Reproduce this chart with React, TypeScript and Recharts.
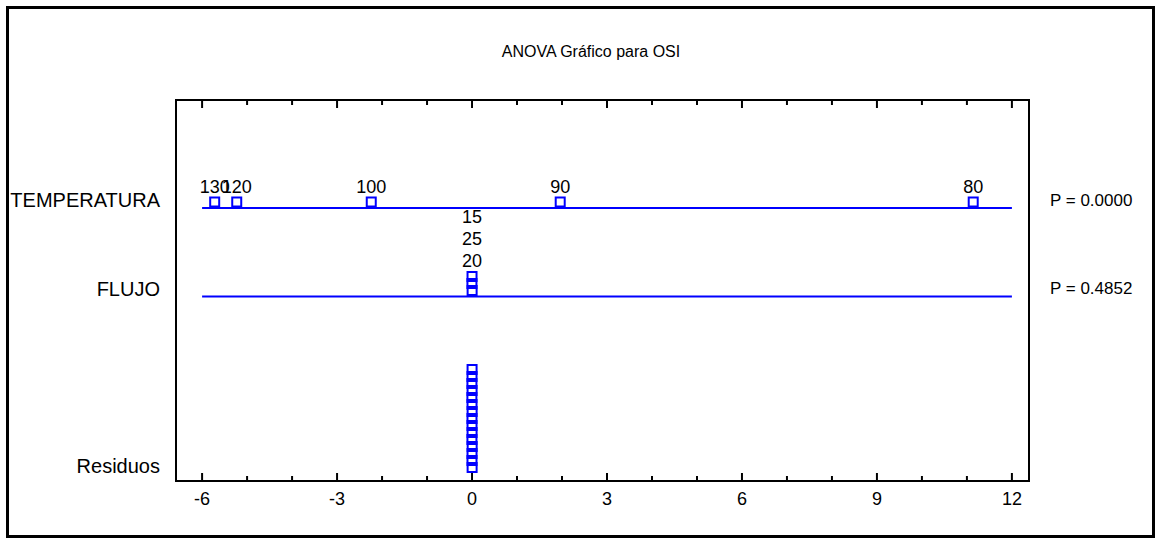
import React from 'react';
import { ScatterChart, Scatter, XAxis, YAxis, ReferenceLine, ReferenceArea } from 'recharts';

// effects (x axis units)
const tempLevels = ['130', '120', '100', '90', '80'];
const tempEffects = [-5.72, -5.23, -2.24, 1.96, 11.14];
const flujoLevels = ['20', '25', '15'];
const flujoEffects = [0.002, -0.002, 0.0];
const residuals = [0.002, -0.001, 0.0, 0.003, -0.002, 0.001, 0.0, -0.001, 0.002, 0.0, -0.003, 0.001, -0.002, 0.0, 0.001];

const rowNames = ['TEMPERATURA', 'FLUJO', 'Residuos'];
const pValues = ['P = 0.0000', 'P = 0.4852'];
const xTicks = [-6, -5, -4, -3, -2, -1, 0, 1, 2, 3, 4, 5, 6, 7, 8, 9, 10, 11, 12];

// layout (y in px above plot bottom)
const ROW_Y = [279, 190.5, 13.5];
const STACK = 7;
const HALF = 5.5;
const BLUE = '#0000ff';
const FONT = '"Liberation Sans", Arial, sans-serif';

const stackRow = (values: number[], baseY: number) => {
  const placed: number[] = [];
  return values.map(v => {
    const k = placed.filter(p => Math.abs(p - v) < 0.2).length;
    placed.push(v);
    return { x: v, y: baseY + k * STACK };
  });
};

const labelRow = (values: number[], names: string[], pts: { x: number; y: number }[]) => {
  const placed: number[] = [];
  return values.map((v, i) => {
    const k = placed.filter(p => Math.abs(p - v) < 0.3).length;
    placed.push(v);
    const top = Math.max(...pts.filter(p => Math.abs(p.x - v) < 0.2).map(p => p.y));
    return { x: v, y: top + HALF + 4 + k * 22, text: names[i] };
  });
};

const tempPts = stackRow(tempEffects, ROW_Y[0]);
const flujoPts = stackRow(flujoEffects, ROW_Y[1]);
const residPts = stackRow(residuals, ROW_Y[2]);
const labels = [...labelRow(tempEffects, tempLevels, tempPts), ...labelRow(flujoEffects, flujoLevels, flujoPts)];

const Square = (props: any) => (
  <rect x={props.cx - 4.5} y={props.cy - 4.5} width={9} height={9} fill="none" stroke={BLUE} strokeWidth={2} />
);

const PointLabel = (props: any) => (
  <text x={props.cx} y={props.cy} textAnchor="middle" fontFamily={FONT} fontSize={18} fill="#000">
    {props.payload.text}
  </text>
);

const BottomTick = (props: any) => {
  const { x, y, payload } = props;
  const major = payload.value % 3 === 0;
  return (
    <g>
      <line x1={x} x2={x} y1={y} y2={y - (major ? 8 : 5)} stroke="#000" strokeWidth={2} />
      {major && (
        <text x={x} y={y + 24} textAnchor="middle" fontFamily={FONT} fontSize={18} fill="#000">
          {payload.value}
        </text>
      )}
    </g>
  );
};

const TopTick = (props: any) => {
  const { x, y, payload } = props;
  const major = payload.value % 3 === 0;
  return <line x1={x} x2={x} y1={y} y2={y + (major ? 8 : 5)} stroke="#000" strokeWidth={2} />;
};

const LeftTick = (props: any) => (
  <text x={props.x - 16} y={props.y - 2} dy="0.35em" textAnchor="end" fontFamily={FONT} fontSize={20} fill="#000">
    {rowNames[props.index]}
  </text>
);

const RightTick = (props: any) => (
  <text x={props.x + 21} y={props.y - 2} dy="0.35em" textAnchor="start" fontFamily={FONT} fontSize={17} fill="#000">
    {pValues[props.index]}
  </text>
);

const App: React.FC = () => (
  <div style={{ position: 'absolute', left: 0, top: 0, width: 1161, height: 541, background: '#fff' }}>
    <div
      style={{
        position: 'absolute', left: 6, top: 6, width: 1149, height: 532,
        border: '3px solid #000', boxSizing: 'border-box'
      }}
    />
    <div
      style={{
        position: 'absolute', left: 591, top: 43, transform: 'translateX(-50%)', whiteSpace: 'nowrap',
        fontFamily: FONT, fontSize: 16, lineHeight: '18px', color: '#000'
      }}
    >
      ANOVA Gráfico para OSI
    </div>
    <div style={{ position: 'absolute', left: 0, top: 0 }}>
      <ScatterChart width={1161} height={541} margin={{ top: 0, right: 0, bottom: 0, left: 0 }}>
        <XAxis
          xAxisId="b" type="number" dataKey="x" domain={[-6.58, 12.38]} ticks={xTicks} interval={0}
          height={60} axisLine={false} tickLine={false} tickSize={0} tickMargin={0} tick={<BottomTick />} allowDataOverflow
        />
        <XAxis
          xAxisId="t" orientation="top" type="number" dataKey="x" domain={[-6.58, 12.38]} ticks={xTicks} interval={0}
          height={100} axisLine={false} tickLine={false} tickSize={0} tickMargin={0} tick={<TopTick />} allowDataOverflow
        />
        <YAxis
          yAxisId="l" type="number" dataKey="y" domain={[0, 381]} ticks={ROW_Y} interval={0} width={176}
          axisLine={false} tickLine={false} tickSize={0} tickMargin={0} tick={<LeftTick />} allowDataOverflow
        />
        <YAxis
          yAxisId="r" orientation="right" type="number" dataKey="y" domain={[0, 381]} ticks={ROW_Y.slice(0, 2)} interval={0}
          width={132} axisLine={false} tickLine={false} tickSize={0} tickMargin={0} tick={<RightTick />} allowDataOverflow
        />
        <ReferenceArea
          xAxisId="b" yAxisId="l" x1={-6.58} x2={12.38} y1={0} y2={381}
          fill="none" fillOpacity={0} stroke="#000" strokeWidth={2} ifOverflow="visible"
        />
        <ReferenceLine
          xAxisId="b" yAxisId="l" segment={[{ x: -6, y: ROW_Y[0] - 6 }, { x: 12, y: ROW_Y[0] - 6 }]}
          stroke={BLUE} strokeWidth={2}
        />
        <ReferenceLine
          xAxisId="b" yAxisId="l" segment={[{ x: -6, y: ROW_Y[1] - 6 }, { x: 12, y: ROW_Y[1] - 6 }]}
          stroke={BLUE} strokeWidth={2}
        />
        <Scatter xAxisId="b" yAxisId="l" data={tempPts} shape={Square} isAnimationActive={false} />
        <Scatter xAxisId="b" yAxisId="l" data={flujoPts} shape={Square} isAnimationActive={false} />
        <Scatter xAxisId="b" yAxisId="l" data={residPts} shape={Square} isAnimationActive={false} />
        <Scatter xAxisId="b" yAxisId="l" data={labels} shape={PointLabel} isAnimationActive={false} />
      </ScatterChart>
    </div>
  </div>
);

export default App;
